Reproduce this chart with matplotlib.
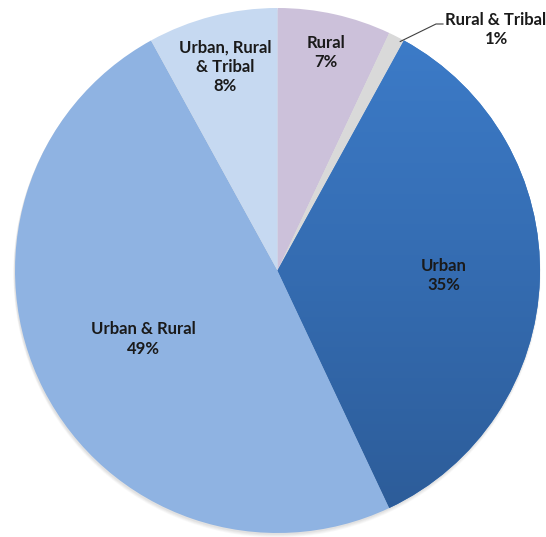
import numpy as np
import matplotlib
matplotlib.use("Agg")
import matplotlib.pyplot as plt
from matplotlib.patches import Circle

# Share of programmes by area served
categories = ["Rural", "Rural & Tribal", "Urban", "Urban & Rural", "Urban, Rural\n& Tribal"]
shares = [7, 1, 35, 49, 8]
colors = ["#ccc1da", "#d9d9d9", "#3a78c3", "#8fb3e2", "#c6d9f1"]
label_radius = [0.85, None, 0.635, 0.575, 0.80]

W, H = 546, 537
fig = plt.figure(figsize=(W / 100, H / 100), dpi=100)
ax = fig.add_axes([0, 0, 1, 1])

cx, cy, r = 277.5, H - 270.5, 262.5

# soft drop shadow under the pie
for i, a in enumerate([0.05, 0.05, 0.06, 0.08]):
    ax.add_patch(Circle((cx - 0.5, cy - 1.5 - (3 - i) * 0.6), r + 1.2 - i * 0.3,
                        facecolor="#808080", edgecolor="none", alpha=a, zorder=0))

wedges, _ = ax.pie(shares, colors=colors, startangle=90, counterclock=False,
                   center=(cx, cy), radius=r, frame=True,
                   wedgeprops=dict(linewidth=0, antialiased=True))

# vertical gradient fill for the Urban slice
urban = wedges[2]
grad = np.linspace(0, 1, 256).reshape(-1, 1)
top = np.array(matplotlib.colors.to_rgb("#3d7dcb"))
bot = np.array(matplotlib.colors.to_rgb("#2c5b97"))
img = top + (bot - top) * grad[..., None]
img = np.repeat(img, 2, axis=1)
im = ax.imshow(img, extent=(cx - r, cx + r, cy - r, cy + r), origin="upper",
               aspect="auto", zorder=urban.get_zorder() + 0.1, interpolation="bilinear")
im.set_clip_path(urban)

ax.set_xlim(0, W)
ax.set_ylim(0, H)
ax.set_aspect("auto")
ax.axis("off")

font = dict(family=["Lato", "DejaVu Sans"], fontweight="bold", fontsize=12,
            color="#1a1a1a", ha="center", va="center", linespacing=1.25, zorder=5)

for w, name, val, lr in zip(wedges, categories, shares, label_radius):
    mid = np.deg2rad((w.theta1 + w.theta2) / 2)
    if lr is None:
        # small slice: label outside with a leader line
        ex, ey = cx + (r - 1) * np.cos(mid) + 4, cy + (r - 1) * np.sin(mid) - 4
        kx, ky = 436, H - 24
        ax.plot([ex, kx, kx + 7], [ey, ky, ky], color="#404040", lw=0.8, zorder=5)
        ax.text(496, H - 29.5, f"{name}\n{val}%", **font)
        continue
    tx, ty = cx + lr * r * np.cos(mid), cy + lr * r * np.sin(mid)
    ax.text(tx, ty, f"{name}\n{val}%", **font)

fig.savefig("out.png", dpi=100, facecolor="white")
